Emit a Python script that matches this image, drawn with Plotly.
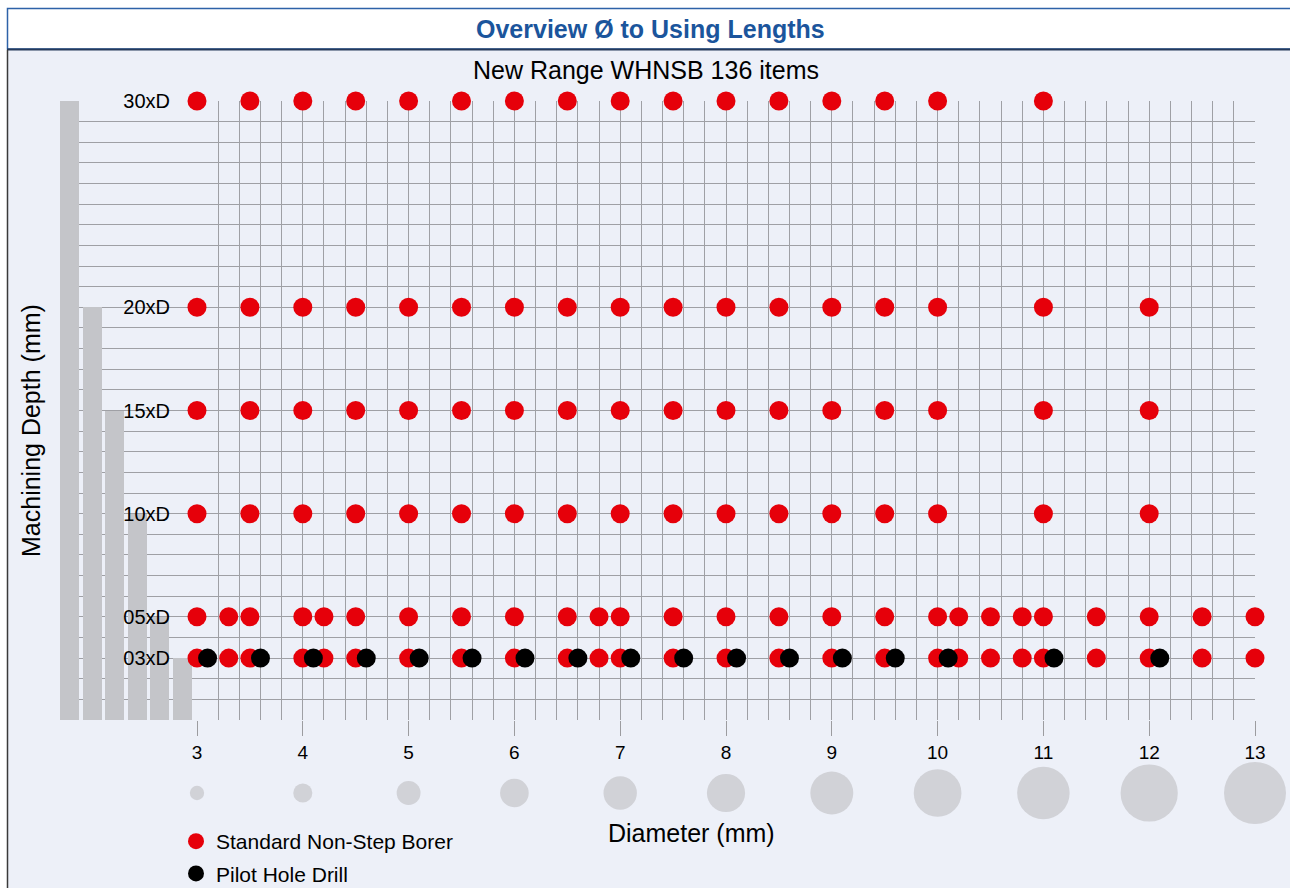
import plotly.graph_objects as go

W, H = 1290, 888

# ---------------- data ----------------
depth_labels = ["30xD", "20xD", "15xD", "10xD", "05xD", "03xD"]
depth_values = [30, 20, 15, 10, 5, 3]

dia_30xD = [3, 3.5, 4, 4.5, 5, 5.5, 6, 6.5, 7, 7.5, 8, 8.5, 9, 9.5, 10, 11]
dia_20xD = [3, 3.5, 4, 4.5, 5, 5.5, 6, 6.5, 7, 7.5, 8, 8.5, 9, 9.5, 10, 11, 12]
dia_15xD = [3, 3.5, 4, 4.5, 5, 5.5, 6, 6.5, 7, 7.5, 8, 8.5, 9, 9.5, 10, 11, 12]
dia_10xD = [3, 3.5, 4, 4.5, 5, 5.5, 6, 6.5, 7, 7.5, 8, 8.5, 9, 9.5, 10, 11, 12]
dia_05xD = [3, 3.3, 3.5, 4, 4.2, 4.5, 5, 5.5, 6, 6.5, 6.8, 7, 7.5, 8, 8.5, 9, 9.5,
            10, 10.2, 10.5, 10.8, 11, 11.5, 12, 12.5, 13]
dia_03xD = [3, 3.3, 3.5, 4, 4.2, 4.5, 5, 5.5, 6, 6.5, 6.8, 7, 7.5, 8, 8.5, 9, 9.5,
            10, 10.2, 10.5, 10.8, 11, 11.5, 12, 12.5, 13]
pilot_dia = [3.1, 3.6, 4.1, 4.6, 5.1, 5.6, 6.1, 6.6, 7.1, 7.6, 8.1, 8.6, 9.1, 9.6,
             10.1, 11.1, 12.1]
pilot_depth = 3

diameter_ticks = [3, 4, 5, 6, 7, 8, 9, 10, 11, 12, 13]

# ---------------- helpers (page pixel -> paper) ----------------
def fx(px):
    return px / W

def fy(py):
    return 1 - py / H

RED = "#e6000a"
GRAY = "#c4c5c9"
GRID = "#9fa0a5"
BLUE = "#1b559c"
FONT = "Liberation Sans, Arial, Helvetica, sans-serif"

std_groups = [dia_30xD, dia_20xD, dia_15xD, dia_10xD, dia_05xD, dia_03xD]
std_x, std_y = [], []
for dias, depth in zip(std_groups, depth_values):
    std_x += dias
    std_y += [depth] * len(dias)

fig = go.Figure()

# depth bars (left)
fig.add_trace(go.Bar(
    x=list(range(len(depth_values))), y=depth_values, width=0.84,
    marker=dict(color=GRAY, line=dict(width=0)),
    xaxis="x", yaxis="y", showlegend=False, hoverinfo="skip",
))

# standard borers
fig.add_trace(go.Scatter(
    x=std_x, y=std_y, mode="markers", name="Standard Non-Step Borer",
    marker=dict(color=RED, size=19, line=dict(width=0)),
    xaxis="x2", yaxis="y2", cliponaxis=False, legendgroup="a",
))

# pilot drills
fig.add_trace(go.Scatter(
    x=pilot_dia, y=[pilot_depth] * len(pilot_dia), mode="markers",
    name="Pilot Hole Drill",
    marker=dict(color="#000000", size=19, line=dict(width=0)),
    xaxis="x2", yaxis="y2", cliponaxis=False, legendgroup="b",
))

# diameter size circles
fig.add_trace(go.Scatter(
    x=diameter_ticks, y=[0] * len(diameter_ticks), mode="markers",
    marker=dict(color=GRAY, size=[4.77 * d for d in diameter_ticks], line=dict(width=0)),
    xaxis="x3", yaxis="y3", cliponaxis=False, showlegend=False, hoverinfo="skip",
))

plot_y_domain = [fy(720), fy(101)]

shapes = [
    # light background
    dict(type="rect", xref="paper", yref="paper", x0=fx(7), x1=fx(1295),
         y0=fy(895), y1=fy(49), fillcolor="#edf0f8", line=dict(width=0), layer="below"),
    # title box
    dict(type="rect", xref="paper", yref="paper", x0=fx(7.5), x1=fx(1295),
         y0=fy(49), y1=fy(8.5), fillcolor="#ffffff",
         line=dict(color="#2d62a8", width=1.5), layer="below"),
    dict(type="line", xref="paper", yref="paper", x0=fx(7), x1=fx(1295),
         y0=fy(49.5), y1=fy(49.5), line=dict(color="#263a5a", width=2), layer="below"),
    # left border of chart area
    dict(type="line", xref="paper", yref="paper", x0=fx(7.5), x1=fx(7.5),
         y0=fy(50), y1=fy(895), line=dict(color="#3a3a3a", width=1.5), layer="below"),
]

annotations = [
    dict(text="<b>Overview Ø to Using Lengths</b>", x=fx(650), y=fy(29),
         xref="paper", yref="paper", showarrow=False, xanchor="center", yanchor="middle",
         font=dict(family=FONT, size=25, color=BLUE)),
    dict(text="New Range WHNSB 136 items", x=fx(646), y=fy(70),
         xref="paper", yref="paper", showarrow=False, xanchor="center", yanchor="middle",
         font=dict(family=FONT, size=25, color="#000000")),
    dict(text="Diameter (mm)", x=fx(691), y=fy(833),
         xref="paper", yref="paper", showarrow=False, xanchor="center", yanchor="middle",
         font=dict(family=FONT, size=25, color="#000000")),
    dict(text="Machining Depth (mm)", x=fx(31), y=fy(431), textangle=-90,
         xref="paper", yref="paper", showarrow=False, xanchor="center", yanchor="middle",
         font=dict(family=FONT, size=25, color="#000000")),
]

fig.update_layout(
    template="none",
    width=W, height=H,
    margin=dict(l=0, r=0, t=0, b=0, pad=0, autoexpand=False),
    paper_bgcolor="#ffffff",
    plot_bgcolor="rgba(0,0,0,0)",
    font=dict(family=FONT, color="#000000"),
    shapes=shapes,
    annotations=annotations,
    bargap=0,
    xaxis=dict(domain=[fx(60), fx(197)], range=[-0.42, 5.64], visible=False,
               fixedrange=True),
    yaxis=dict(domain=plot_y_domain, range=[0, 30], anchor="x",
               tickmode="linear", tick0=0, dtick=1, showgrid=True, gridcolor=GRID,
               gridwidth=1, showticklabels=False, ticks="", zeroline=False,
               showline=False, automargin=False, fixedrange=True),
    xaxis2=dict(domain=[fx(197), fx(1255)], range=[3, 13], anchor="y2",
                tickmode="linear", tick0=0, dtick=1, ticks="outside", ticklen=15,
                tickwidth=1, tickcolor="#9c9ca0", showgrid=True, gridcolor=GRID,
                gridwidth=1, zeroline=False, showline=False, automargin=False,
                tickfont=dict(family=FONT, size=19, color="#000000"),
                minor=dict(tick0=0, dtick=0.2, showgrid=True, gridcolor=GRID,
                           gridwidth=1, ticks=""),
                fixedrange=True),
    yaxis2=dict(domain=plot_y_domain, range=[0, 30], anchor="x2",
                tickmode="array", tickvals=depth_values, ticktext=depth_labels,
                ticks="", ticklabelstandoff=26, showgrid=True, gridcolor=GRID,
                gridwidth=1, zeroline=False, showline=False, automargin=False,
                tickfont=dict(family=FONT, size=20, color="#000000"),
                minor=dict(tick0=0, dtick=1, showgrid=True, gridcolor=GRID,
                           gridwidth=1, ticks=""),
                fixedrange=True),
    xaxis3=dict(domain=[fx(197), fx(1255)], range=[3, 13], anchor="y3",
                visible=False, fixedrange=True),
    yaxis3=dict(domain=[fy(830), fy(756)], range=[-1, 1], anchor="x3",
                visible=False, fixedrange=True),
    legend=dict(x=fx(176), xanchor="left", y=fy(821), yanchor="top",
                bgcolor="rgba(0,0,0,0)", borderwidth=0,
                font=dict(family=FONT, size=21, color="#000000"),
                traceorder="grouped", tracegroupgap=2, itemsizing="trace"),
    showlegend=True,
)

fig.write_html(
    "out.html",
    config={"displayModeBar": False},
    post_script="document.body.style.margin='0';document.body.style.overflow='hidden';",
)
